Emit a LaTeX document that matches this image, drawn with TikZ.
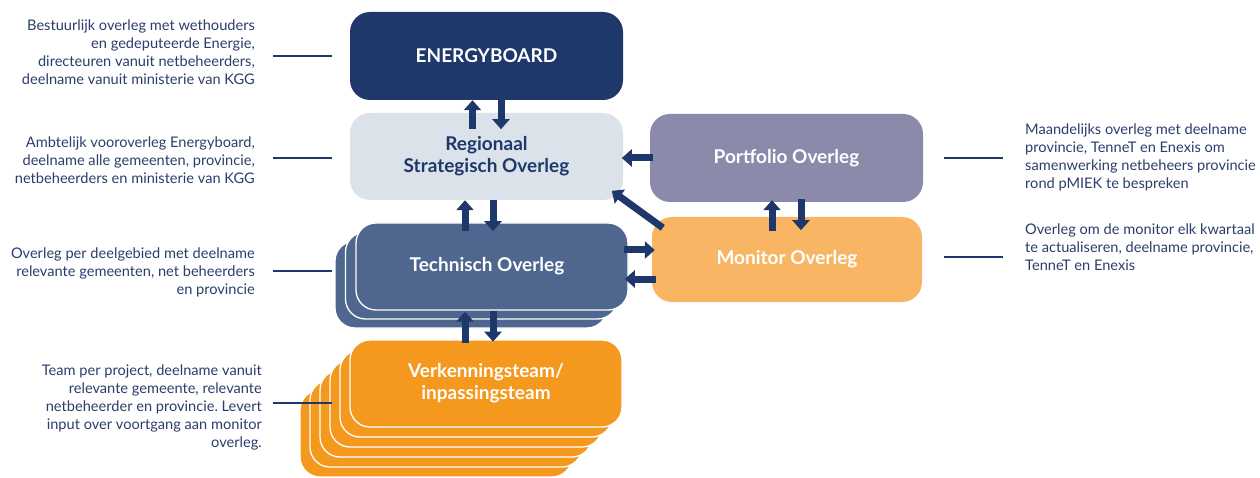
\documentclass[tikz,border=0pt]{standalone}
\usepackage{fontspec}
\setmainfont{Lato}
\usetikzlibrary{arrows.meta,calc}
\definecolor{navy}{HTML}{1E386B}
\definecolor{rsofill}{HTML}{DCE2EA}
\definecolor{pofill}{HTML}{8B8AAB}
\definecolor{mofill}{HTML}{F8B664}
\definecolor{tofill}{HTML}{4F668F}
\definecolor{vtfill}{HTML}{F4991E}
\definecolor{anntext}{HTML}{2B3D6B}
\frenchspacing
\begin{document}
\begin{tikzpicture}[x=1pt,y=-1pt,
  box/.style={rounded corners=20pt, minimum width=273pt, minimum height=88pt, inner sep=0pt, align=center,
    font=\bfseries\fontsize{19}{22}\selectfont, text=white},
  stackbox/.style={box, draw=white, line width=1.3pt},
  arr/.style={draw=navy, line width=7pt, -{Triangle[width=17pt,length=10pt]}},
  lead/.style={draw=navy, line width=2pt},
  ann/.style={font=\fontsize{14.6}{18}\selectfont, text=anntext, inner sep=0pt}
]
\useasboundingbox (0,0) rectangle (1260,478);

% Verkenningsteam stack
\foreach \k in {5,4,3,2,1}{
  \node[stackbox, fill=vtfill, minimum width=272pt, minimum height=87pt] (vt\k) at (486-10*\k, 383.5+10*\k) {};
}
\node[stackbox, fill=vtfill, minimum width=272pt, minimum height=87pt] (vt) at (486,383.5) {Verkenningsteam/\\inpassingsteam};

% Technisch stack
\foreach \k in {2,1}{
  \node[stackbox, fill=tofill, minimum width=272pt, minimum height=87pt] (to\k) at (492-10.5*\k, 266.5+9*\k) {};
}
\node[stackbox, fill=tofill, minimum width=272pt, minimum height=87pt] (to) at (492,266.5) {\hspace*{-10pt}Technisch Overleg};

\node[box, fill=navy] (eb) at (486.5,56) {\raisebox{-1.5pt}{ENERGYBOARD}};
\node[box, fill=rsofill, text=navy, minimum height=87pt] (rso) at (486.5,156.5) {Regionaal\\Strategisch Overleg};
\node[box, fill=pofill] (po) at (786.5,158) {Portfolio Overleg};
\node[box, fill=mofill, minimum width=270pt, minimum height=85pt] (mo) at (787,259.5) {Monitor Overleg};

% arrows
\draw[arr] ($(eb.south)+(-14,29)$) -- ($(eb.south)+(-14,0)$);
\draw[arr] ($(eb.south)+(14.5,0)$) -- ($(eb.south)+(14.5,29)$);
\draw[arr] ($(rso.south)+(-21.5,31)$) -- ($(rso.south)+(-21.5,0)$);
\draw[arr] ($(rso.south)+(6.5,0)$) -- ($(rso.south)+(6.5,31)$);
\draw[arr] ($(to.south)+(-27,32)$) -- ($(to.south)+(-27,1)$);
\draw[arr] ($(to.south)+(1,0)$) -- ($(to.south)+(1,31)$);
\draw[arr] ($(mo.west)+(-28,-9.5)$) -- ($(mo.west)+(3,-9.5)$);
\draw[arr] ($(mo.west)+(4,19.5)$) -- ($(mo.west)+(-27,19.5)$);
\draw[arr] ($(po.west)+(3,0)$) -- ($(po.west)+(-28,0)$);
\draw[arr] ($(mo.north west)+(11,11)$) -- ($(mo.north west)+(-40,-26)$);
\draw[arr] ($(po.south)+(-14.5,29)$) -- ($(po.south)+(-14.5,-2)$);
\draw[arr] ($(po.south)+(14.5,-3)$) -- ($(po.south)+(14.5,28)$);

% annotations
\node[ann, anchor=north east, align=right] (a1) at (255,20) {Bestuurlijk overleg met wethouders\\en gedeputeerde Energie,\\directeuren vanuit netbeheerders,\\deelname vanuit ministerie van KGG};
\node[ann, anchor=north east, align=right] (a2) at (255,137) {Ambtelijk vooroverleg Energyboard,\\deelname alle gemeenten, provincie,\\netbeheerders en ministerie van KGG};
\node[ann, anchor=north east, align=right] (a3) at (255,248) {Overleg per deelgebied met deelname\\relevante gemeenten, net beheerders\\en provincie};
\node[ann, anchor=north east, align=right] (a4) at (262,365) {Team per project, deelname vanuit\\relevante gemeente, relevante\\netbeheerder en provincie. Levert\\input over voortgang aan monitor\\overleg.};
\node[ann, anchor=north west, align=left] (a5) at (1025,124) {Maandelijks overleg met deelname\\provincie, TenneT en Enexis om\\samenwerking netbeheers provincie\\rond pMIEK te bespreken};
\node[ann, anchor=north west, align=left] (a6) at (1025,224) {Overleg om de monitor elk kwartaal\\te actualiseren, deelname provincie,\\TenneT en Enexis};

% leader lines
\coordinate (l1a) at (273,56);  \coordinate (l1b) at (332,56);
\coordinate (l2a) at (273,158); \coordinate (l2b) at (332,158);
\coordinate (l3a) at (273,271); \coordinate (l3b) at (332,271);
\coordinate (l4a) at (273,403); \coordinate (l4b) at (332,403);
\coordinate (l5a) at (944,158); \coordinate (l5b) at (1003,158);
\coordinate (l6a) at (944,257); \coordinate (l6b) at (1003,257);
\draw[lead] (l1a) -- (l1b);
\draw[lead] (l2a) -- (l2b);
\draw[lead] (l3a) -- (l3b);
\draw[lead] (l4a) -- (l4b);
\draw[lead] (l5a) -- (l5b);
\draw[lead] (l6a) -- (l6b);
\end{tikzpicture}
\end{document}
